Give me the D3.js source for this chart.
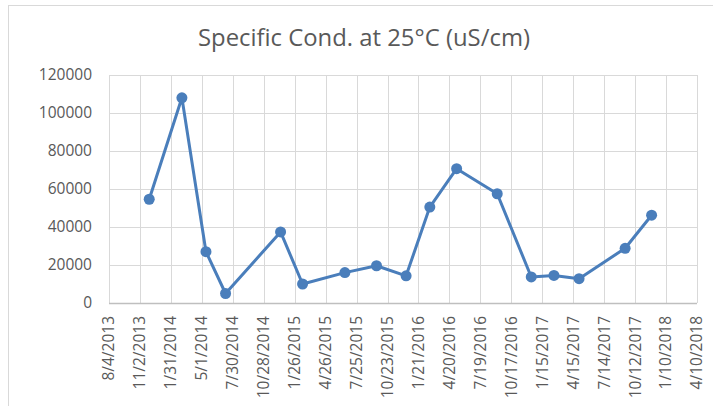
<!DOCTYPE html>
<html>
<head>
<meta charset="utf-8">
<title>Specific Cond. at 25°C</title>
<script src="https://d3js.org/d3.v7.min.js"></script>
<style>
  * { margin: 0; padding: 0; }
  body { background: #fff; }
  svg { display: block; font-family: "Open Sans", sans-serif; }
  .tick-label { fill: #595959; font-size: 15.5px; }
</style>
</head>
<body>
<div id="chart"></div>
<script>
const sampleDates = ["11/29/2013", "3/4/2014", "5/13/2014", "7/9/2014", "12/16/2014", "2/18/2015",
  "6/21/2015", "9/21/2015", "12/16/2015", "2/23/2016", "5/11/2016", "9/6/2016",
  "12/14/2016", "2/18/2017", "5/2/2017", "9/13/2017", "11/29/2017"];
const conductivity = [54600, 108000, 27000, 5000, 37400, 10000,
  16000, 19600, 14300, 50500, 70700, 57500,
  13700, 14500, 12800, 28800, 46200];

const xTickLabels = ["8/4/2013", "11/2/2013", "1/31/2014", "5/1/2014", "7/30/2014", "10/28/2014",
  "1/26/2015", "4/26/2015", "7/25/2015", "10/23/2015", "1/21/2016", "4/20/2016",
  "7/19/2016", "10/17/2016", "1/15/2017", "4/15/2017", "7/14/2017", "10/12/2017",
  "1/10/2018", "4/10/2018"];
const yTicks = [0, 20000, 40000, 60000, 80000, 100000, 120000];

const chartTitle = "Specific Cond. at 25°C (uS/cm)";

const width = 713, height = 406;
const plot = { left: 109, right: 697, top: 75, bottom: 303 };

const parse = d3.utcParse("%m/%d/%Y");
const xTicks = xTickLabels.map(parse);
const points = sampleDates.map((d, i) => ({ date: parse(d), value: conductivity[i] }));

const x = d3.scaleUtc()
  .domain([xTicks[0], xTicks[xTicks.length - 1]])
  .range([plot.left, plot.right]);
const y = d3.scaleLinear()
  .domain([0, 120000])
  .range([plot.bottom, plot.top]);

const svg = d3.select("#chart").append("svg")
  .attr("width", width)
  .attr("height", height);

// chart area border
svg.append("rect")
  .attr("x", 8.5).attr("y", 5.5)
  .attr("width", width + 20).attr("height", height + 20)
  .attr("fill", "#fff")
  .attr("stroke", "#d9d9d9");

// title
svg.append("text")
  .attr("x", 364).attr("y", 46)
  .attr("text-anchor", "middle")
  .attr("fill", "#595959")
  .style("font-size", "24px")
  .attr("textLength", 332)
  .attr("lengthAdjust", "spacingAndGlyphs")
  .text(chartTitle);

// gridlines
svg.append("g")
  .selectAll("line")
  .data(yTicks)
  .join("line")
  .attr("x1", plot.left).attr("x2", plot.right)
  .attr("y1", d => Math.round(y(d)) + 0.5)
  .attr("y2", d => Math.round(y(d)) + 0.5)
  .attr("stroke", "#d9d9d9");

svg.append("g")
  .selectAll("line")
  .data(xTicks)
  .join("line")
  .attr("x1", d => Math.round(x(d)) + 0.5)
  .attr("x2", d => Math.round(x(d)) + 0.5)
  .attr("y1", plot.top).attr("y2", plot.bottom)
  .attr("stroke", "#d9d9d9");

// horizontal axis line
svg.append("line")
  .attr("x1", plot.left).attr("x2", plot.right)
  .attr("y1", plot.bottom + 0.5).attr("y2", plot.bottom + 0.5)
  .attr("stroke", "#bfbfbf")
  .attr("stroke-width", 1.5);

// y labels
svg.append("g")
  .selectAll("text")
  .data(yTicks)
  .join("text")
  .attr("class", "tick-label")
  .attr("x", 92)
  .attr("y", d => y(d))
  .attr("dy", "0.35em")
  .attr("text-anchor", "end")
  .text(d => d);

// x labels, rotated
svg.append("g")
  .selectAll("text")
  .data(xTicks)
  .join("text")
  .attr("class", "tick-label")
  .attr("transform", d => `translate(${x(d)},316) rotate(-90)`)
  .attr("dy", "0.35em")
  .attr("text-anchor", "end")
  .text((d, i) => xTickLabels[i]);

// series
const line = d3.line()
  .x(d => x(d.date))
  .y(d => y(d.value));

svg.append("path")
  .datum(points)
  .attr("d", line)
  .attr("fill", "none")
  .attr("stroke", "#4a7ebb")
  .attr("stroke-width", 3)
  .attr("stroke-linejoin", "round");

svg.append("g")
  .selectAll("circle")
  .data(points)
  .join("circle")
  .attr("cx", d => x(d.date))
  .attr("cy", d => y(d.value))
  .attr("r", 5.5)
  .attr("fill", "#4a7ebb");
</script>
</body>
</html>
